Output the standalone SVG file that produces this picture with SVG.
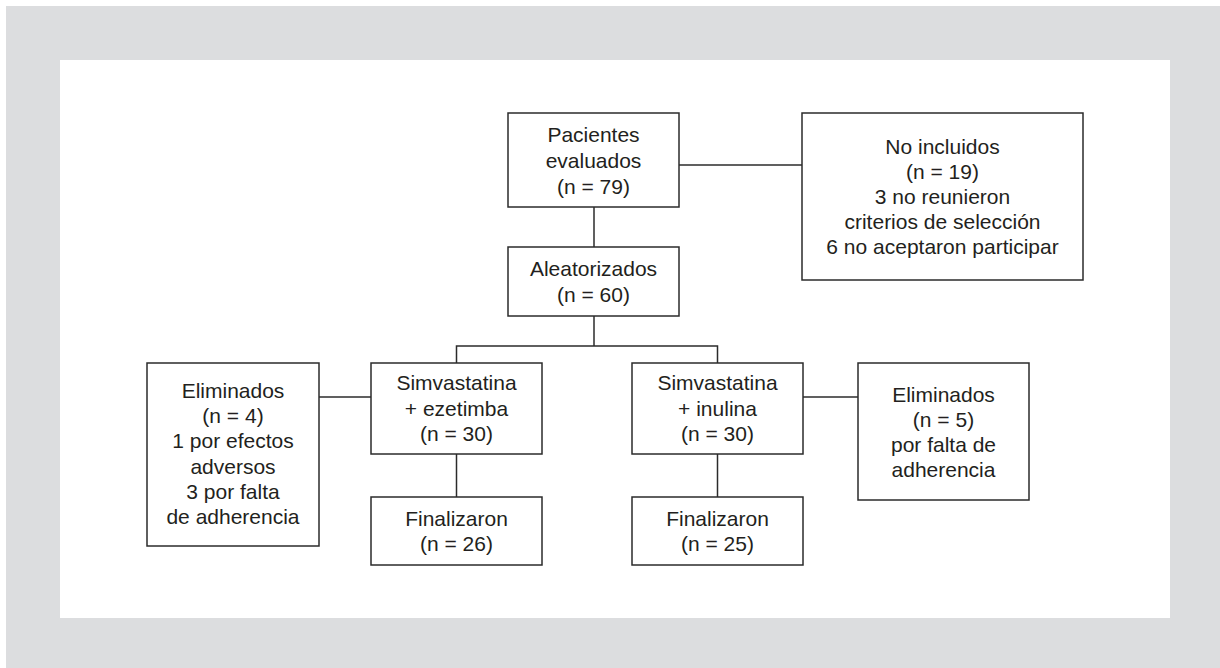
<svg xmlns="http://www.w3.org/2000/svg" width="1220" height="668" viewBox="0 0 1220 668">
<defs>
<style>
.box{fill:#ffffff;stroke:#2b2b2b;stroke-width:1.5}
.ln{fill:none;stroke:#2b2b2b;stroke-width:1.5}
text{font-family:"Liberation Sans",Arial,sans-serif;font-size:21px;fill:#231f20;text-anchor:middle}
</style>
</defs>
<rect x="0" y="0" width="1220" height="668" fill="#ffffff"/>
<rect x="6" y="6" width="1214" height="662" fill="#dcdddf"/>
<rect x="60" y="60" width="1110" height="558" fill="#ffffff"/>
<g id="connectors">
<path class="ln" d="M679,165 H802"/>
<path class="ln" d="M594,207 V247"/>
<path class="ln" d="M594,316 V346"/>
<path class="ln" d="M456.5,363 V346 H717.5 V363"/>
<path class="ln" d="M319,397 H371"/>
<path class="ln" d="M803,397 H858"/>
<path class="ln" d="M456.5,454 V497"/>
<path class="ln" d="M717.5,454 V497"/>
</g>
<g id="pacientes">
<rect class="box" x="508" y="113" width="171" height="94"/>
<text x="593.5" y="141.5">Pacientes</text>
<text x="593.5" y="167.5">evaluados</text>
<text x="593.5" y="193.5">(n = 79)</text>
</g>
<g id="no-incluidos">
<rect class="box" x="802" y="113" width="281" height="167"/>
<text x="942.5" y="154">No incluidos</text>
<text x="942.5" y="179">(n = 19)</text>
<text x="942.5" y="204">3 no reunieron</text>
<text x="942.5" y="229">criterios de selección</text>
<text x="942.5" y="254">6 no aceptaron participar</text>
</g>
<g id="aleatorizados">
<rect class="box" x="508" y="247" width="171" height="69"/>
<text x="593.5" y="276">Aleatorizados</text>
<text x="593.5" y="301.5">(n = 60)</text>
</g>
<g id="eliminados-izq">
<rect class="box" x="147" y="363" width="172" height="183"/>
<text x="233" y="398">Eliminados</text>
<text x="233" y="423">(n = 4)</text>
<text x="233" y="448">1 por efectos</text>
<text x="233" y="473.5">adversos</text>
<text x="233" y="498.5">3 por falta</text>
<text x="233" y="523.5">de adherencia</text>
</g>
<g id="simv-ezetimba">
<rect class="box" x="371" y="363" width="171" height="91"/>
<text x="456.5" y="390">Simvastatina</text>
<text x="456.5" y="415.5">+ ezetimba</text>
<text x="456.5" y="441">(n = 30)</text>
</g>
<g id="simv-inulina">
<rect class="box" x="632" y="363" width="171" height="91"/>
<text x="717.5" y="390">Simvastatina</text>
<text x="717.5" y="415.5">+ inulina</text>
<text x="717.5" y="441">(n = 30)</text>
</g>
<g id="eliminados-der">
<rect class="box" x="858" y="363" width="171" height="137"/>
<text x="943.5" y="401.5">Eliminados</text>
<text x="943.5" y="426.5">(n = 5)</text>
<text x="943.5" y="451.5">por falta de</text>
<text x="943.5" y="476.5">adherencia</text>
</g>
<g id="finalizaron-izq">
<rect class="box" x="371" y="497" width="171" height="68"/>
<text x="456.5" y="525.5">Finalizaron</text>
<text x="456.5" y="551">(n = 26)</text>
</g>
<g id="finalizaron-der">
<rect class="box" x="632" y="497" width="171" height="68"/>
<text x="717.5" y="525.5">Finalizaron</text>
<text x="717.5" y="551">(n = 25)</text>
</g>
</svg>
